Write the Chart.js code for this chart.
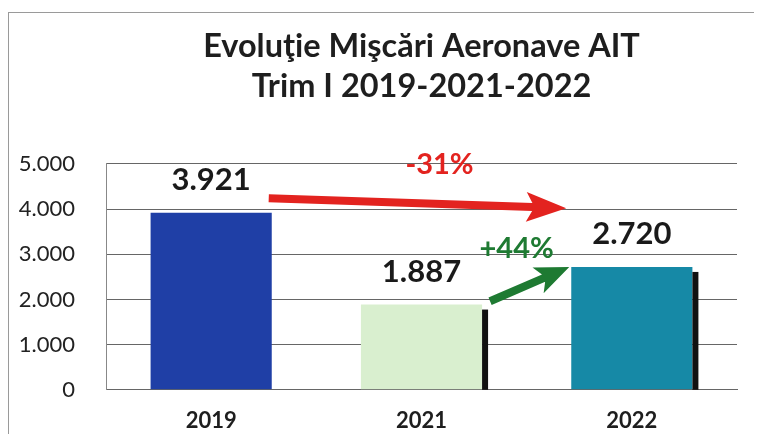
<!DOCTYPE html>
<html>
<head>
<meta charset="utf-8">
<script src="https://cdn.jsdelivr.net/npm/chart.js@4/dist/chart.umd.min.js"></script>
<style>
  html, body { margin: 0; padding: 0; background: #fff; overflow: hidden; }
  #wrap { position: relative; width: 760px; height: 434px; overflow: hidden; }
  #frame { position: absolute; left: 8px; top: 12px; width: 745px; height: 430px;
    border-left: 1px solid #9a9a9a; border-top: 1px solid #9a9a9a; pointer-events: none; }
</style>
</head>
<body>
<div id="wrap">
  <canvas id="chart" width="760" height="434"></canvas>
  <div id="frame"></div>
</div>
<script>
'use strict';

var categories = ['2019', '2021', '2022'];
var movements = [3921, 1887, 2720];
var barColors = ['#1f3fa6', '#d9efcf', '#1689a6'];
var yTicks = [0, 1000, 2000, 3000, 4000, 5000];

// arrows between bars: from bar, to bar, start value, end value, label
var arrowFrom = [0, 1];
var arrowTo = [2, 2];
var arrowStartValues = [4240, 1960];
var arrowEndValues = [4020, 2720];
var arrowLabels = ['-31%', '+44%'];
var arrowColors = ['#e3231f', '#1e7a32'];

function formatThousands(v){
  return String(v).replace(/\B(?=(\d{3})+(?!\d))/g, '.');
}

// value labels above bars + black shadow on right of 2021/2022 bars
var barExtras = {
  id: 'barExtras',
  afterDatasetsDraw: function(chart){
    var ctx = chart.ctx;
    var meta = chart.getDatasetMeta(0);
    var base = chart.scales.y.getPixelForValue(0);
    ctx.save();
    meta.data.forEach(function(bar, i){
      var right = bar.x + bar.width / 2;
      if(i > 0){
        ctx.fillStyle = '#111';
        ctx.fillRect(right, bar.y + 5, 6, base - bar.y - 5);
      }
      ctx.fillStyle = '#1a1a1a';
      ctx.font = 'bold 31px Lato';
      ctx.textAlign = 'center';
      ctx.textBaseline = 'middle';
      ctx.fillText(formatThousands(movements[i]), bar.x, bar.y - 33);
    });
    ctx.restore();
  }
};

var arrowsPlugin = {
  id: 'arrows',
  afterDatasetsDraw: function(chart){
    var ctx = chart.ctx;
    var meta = chart.getDatasetMeta(0);
    var y = chart.scales.y;
    for(var a = 0; a < arrowFrom.length; a++){
      var b1 = meta.data[arrowFrom[a]];
      var b2 = meta.data[arrowTo[a]];
      var x1 = b1.x + b1.width / 2 + (a === 0 ? -3 : 8);
      var y1 = y.getPixelForValue(arrowStartValues[a]);
      var x2 = b2.x - b2.width / 2 - (a === 0 ? 5 : 2);
      var y2 = y.getPixelForValue(arrowEndValues[a]);
      var ang = Math.atan2(y2 - y1, x2 - x1);
      var headLen = a === 0 ? 34 : 28;
      var headHalf = a === 0 ? 15 : 14;
      var shaft = 4;
      var len = Math.hypot(x2 - x1, y2 - y1);
      ctx.save();
      ctx.translate(x1, y1);
      ctx.rotate(ang);
      ctx.fillStyle = arrowColors[a];
      ctx.beginPath();
      ctx.moveTo(0, -shaft);
      ctx.lineTo(len - headLen, -shaft);
      ctx.lineTo(len - headLen - 6, -headHalf);
      ctx.lineTo(len, 0);
      ctx.lineTo(len - headLen - 6, headHalf);
      ctx.lineTo(len - headLen, shaft);
      ctx.lineTo(0, shaft);
      ctx.closePath();
      ctx.fill();
      ctx.restore();

      ctx.save();
      ctx.fillStyle = arrowColors[a];
      ctx.font = 'bold 29px Lato';
      ctx.textAlign = 'center';
      ctx.textBaseline = 'middle';
      var mx = (x1 + x2) / 2, my = (y1 + y2) / 2;
      if(a === 0){
        ctx.fillText(arrowLabels[a], mx + 22, my - 39);
      }else{
        ctx.fillText(arrowLabels[a], mx - 13, my - 35);
      }
      ctx.restore();
    }
  }
};

var ctx = document.getElementById('chart').getContext('2d');
var chart = new Chart(ctx, {
  type: 'bar',
  data: {
    labels: categories,
    datasets: [{
      data: movements,
      backgroundColor: barColors,
      borderWidth: 0,
      barPercentage: 0.576,
      categoryPercentage: 1
    }]
  },
  options: {
    responsive: false,
    animation: false,
    layout: { padding: { left: 10, right: 23, top: 0, bottom: 0 } },
    plugins: {
      legend: { display: false },
      tooltip: { enabled: false },
      title: {
        display: true,
        fullSize: false,
        text: ['Evoluţie Mişcări Aeronave AIT', 'Trim I 2019-2021-2022'],
        color: '#1e1e1e',
        font: { family: 'Lato', size: 32.5, weight: 'bold', lineHeight: 1.23 },
        padding: { top: 27, bottom: 57 }
      }
    },
    scales: {
      x: {
        afterFit: function(scale){ scale.height = 42; },
        grid: { display: false, drawTicks: false },
        border: { display: true, color: '#666', width: 1 },
        ticks: {
          color: '#1e1e1e',
          padding: 20,
          maxRotation: 0,
          font: { family: 'Lato', size: 22, weight: 'bold', lineHeight: 1 }
        }
      },
      y: {
        min: 0,
        max: 5000,
        afterBuildTicks: function(scale){
          scale.ticks = yTicks.map(function(v){ return { value: v }; });
        },
        afterFit: function(scale){ scale.width = 96; },
        grid: { color: '#666', lineWidth: 1, drawTicks: false },
        border: { display: true, color: '#888', width: 1 },
        ticks: {
          color: '#222',
          padding: 31,
          font: { family: 'Lato', size: 22 },
          callback: function(v){ return formatThousands(v); }
        }
      }
    }
  },
  plugins: [barExtras, arrowsPlugin]
});
</script>
</body>
</html>
